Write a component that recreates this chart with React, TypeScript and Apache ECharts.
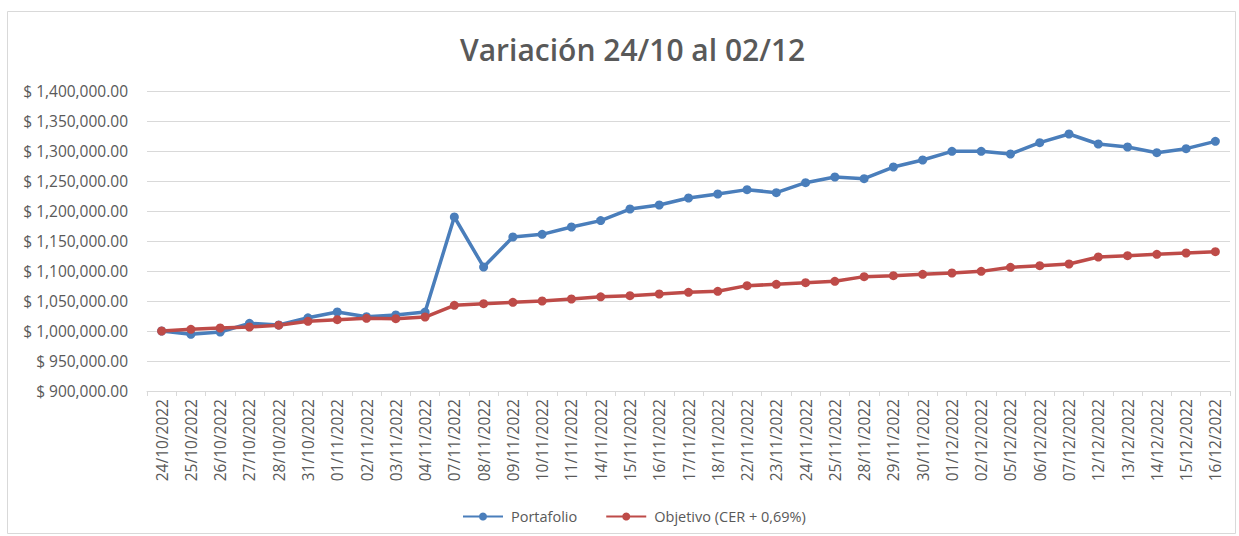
import React, { useEffect, useRef } from "react";
import * as echarts from "echarts";

const categories = [
  "24/10/2022", "25/10/2022", "26/10/2022", "27/10/2022", "28/10/2022", "31/10/2022",
  "01/11/2022", "02/11/2022", "03/11/2022", "04/11/2022", "07/11/2022", "08/11/2022",
  "09/11/2022", "10/11/2022", "11/11/2022", "14/11/2022", "15/11/2022", "16/11/2022",
  "17/11/2022", "18/11/2022", "22/11/2022", "23/11/2022", "24/11/2022", "25/11/2022",
  "28/11/2022", "29/11/2022", "30/11/2022", "01/12/2022", "02/12/2022", "05/12/2022",
  "06/12/2022", "07/12/2022", "12/12/2022", "13/12/2022", "14/12/2022", "15/12/2022",
  "16/12/2022",
];

const portafolio = [
  1000000, 994500, 998300, 1012800, 1010000, 1022000,
  1031700, 1023900, 1026700, 1031500, 1190000, 1106700,
  1156700, 1161100, 1173300, 1184000, 1203300, 1210000,
  1221700, 1228300, 1235600, 1230600, 1247200, 1256700,
  1253900, 1273300, 1285000, 1299400, 1299400, 1295000,
  1313900, 1328300, 1311700, 1306700, 1297200, 1303900,
  1316100,
];

const objetivo = [
  1000000, 1002800, 1005000, 1006700, 1009700, 1016100,
  1018900, 1021100, 1020600, 1023300, 1042800, 1045600,
  1047800, 1050000, 1053300, 1057000, 1058900, 1061700,
  1064400, 1066100, 1075600, 1077800, 1080600, 1082800,
  1090600, 1092200, 1094400, 1096700, 1099400, 1106100,
  1108900, 1111700, 1123300, 1125600, 1127800, 1130000,
  1132200,
];

const titleText = "Variación 24/10 al 02/12";
const seriesNames = ["Portafolio", "Objetivo (CER + 0,69%)"];
const yMin = 900000;
const yMax = 1400000;
const yStep = 50000;

const fmt = (v: number) =>
  "$ " +
  v.toLocaleString("en-US", { minimumFractionDigits: 2, maximumFractionDigits: 2 });

export default function App() {
  const ref = useRef<HTMLDivElement>(null);
  useEffect(() => {
    if (!ref.current) return;
    const chart = echarts.init(ref.current, null, { renderer: "svg" });
    const font = "'Open Sans', 'Noto Sans', sans-serif";
    chart.setOption({
      animation: false,
      backgroundColor: "#ffffff",
      textStyle: { fontFamily: font },
      graphic: [
        {
          type: "rect",
          shape: { x: 7.5, y: 11.5, width: 1228, height: 522 },
          style: { fill: "none", stroke: "#d9d9d9", lineWidth: 1 },
          silent: true,
        },
      ],
      title: {
        text: titleText,
        left: 455,
        top: 29,
        textStyle: { fontFamily: font, fontSize: 30, fontWeight: 600, color: "#595959" },
      },
      legend: {
        bottom: 7,
        left: 457,
        itemWidth: 40,
        itemHeight: 10,
        itemGap: 28,
        textStyle: { fontFamily: font, fontSize: 14.5, color: "#595959", padding: [0, 0, 0, 3] },
        data: seriesNames,
      },
      grid: { left: 147, right: 9, top: 91, bottom: 145 },
      xAxis: {
        type: "category",
        data: categories,
        boundaryGap: true,
        axisLine: { lineStyle: { color: "#d9d9d9", width: 1 } },
        axisTick: { show: true, length: 5, lineStyle: { color: "#d9d9d9" } },
        axisLabel: {
          rotate: 90,
          interval: 0,
          fontSize: 15.5,
          color: "#595959",
          fontFamily: font,
          margin: 8,
        },
      },
      yAxis: {
        type: "value",
        min: yMin,
        max: yMax,
        interval: yStep,
        axisLine: { show: false },
        axisTick: { show: false },
        splitLine: { lineStyle: { color: "#d9d9d9", width: 1 } },
        axisLabel: {
          formatter: (v: number) => fmt(v),
          fontSize: 15.5,
          color: "#595959",
          fontFamily: font,
          margin: 19,
        },
      },
      series: [
        {
          name: seriesNames[0],
          type: "line",
          data: portafolio,
          color: "#4a7ebb",
          symbol: "circle",
          symbolSize: 9,
          lineStyle: { width: 3.5, color: "#4a7ebb" },
          itemStyle: { color: "#4a7ebb" },
        },
        {
          name: seriesNames[1],
          type: "line",
          data: objetivo,
          color: "#be4b48",
          symbol: "circle",
          symbolSize: 9,
          lineStyle: { width: 3.5, color: "#be4b48" },
          itemStyle: { color: "#be4b48" },
        },
      ],
    });
    return () => chart.dispose();
  }, []);
  return (
    <div
      ref={ref}
      style={{ position: "fixed", left: 0, top: 0, width: 1239, height: 536 }}
    />
  );
}
